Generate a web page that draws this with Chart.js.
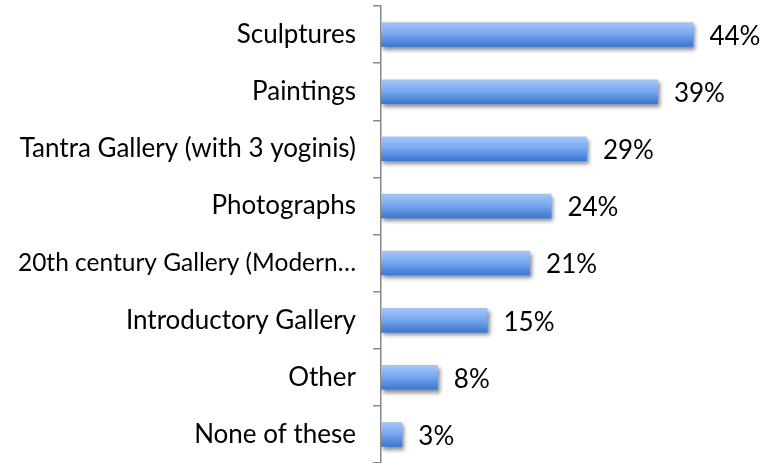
<!DOCTYPE html>
<html>
<head>
<meta charset="utf-8">
<script src="https://cdn.jsdelivr.net/npm/chart.js@4"></script>
<style>
    html, body { margin: 0; padding: 0; background: #fff; }
    #wrap { width: 764px; height: 463px; }
</style>
</head>
<body>
<div id="wrap"><canvas id="galleryChart"></canvas></div>
<script>
const categories = [
    'Sculptures',
    'Paintings',
    'Tantra Gallery (with 3 yoginis)',
    'Photographs',
    '20th century Gallery (Modern…',
    'Introductory Gallery',
    'Other',
    'None of these'
];
const shares = [44, 39, 29, 24, 21, 15, 8, 3];
const labelFont = '26px Lato';

// vertical gradient on each bar, plus a soft drop shadow
const barStyle = {
    id: 'barStyle',
    beforeDatasetsDraw(chart) {
        const ctx = chart.ctx;
        chart.getDatasetMeta(0).data.forEach(bar => {
            const top = bar.y - bar.height / 2;
            const g = ctx.createLinearGradient(0, top, 0, top + bar.height);
            g.addColorStop(0, '#a2c6fb');
            g.addColorStop(0.45, '#7aaaf1');
            g.addColorStop(1, '#3b76d0');
            // options objects can be shared between bars, so give each its own
            bar.options = Object.assign({}, bar.options, { backgroundColor: g });
        });
        ctx.save();
        ctx.shadowColor = 'rgba(0,0,0,0.45)';
        ctx.shadowBlur = 4;
        ctx.shadowOffsetX = 2;
        ctx.shadowOffsetY = 3;
    },
    afterDatasetsDraw(chart) {
        chart.ctx.restore();
    }
};

const valueLabels = {
    id: 'valueLabels',
    afterDatasetsDraw(chart) {
        const ctx = chart.ctx;
        ctx.save();
        ctx.font = labelFont;
        ctx.fillStyle = '#000';
        ctx.textBaseline = 'middle';
        chart.getDatasetMeta(0).data.forEach((bar, i) => {
            ctx.fillText(shares[i] + '%', bar.x + 16, bar.y + 2);
        });
        ctx.restore();
    }
};

new Chart(document.getElementById('galleryChart'), {
    type: 'bar',
    data: {
        labels: categories,
        datasets: [{
            data: shares,
            backgroundColor: '#7aaaf1',
            borderWidth: 0,
            categoryPercentage: 1,
            barPercentage: 0.43
        }]
    },
    plugins: [barStyle, valueLabels],
    options: {
        indexAxis: 'y',
        responsive: true,
        maintainAspectRatio: false,
        animation: false,
        layout: { padding: { top: 6, right: 28, bottom: 0, left: 0 } },
        plugins: {
            legend: { display: false },
            tooltip: { enabled: false }
        },
        scales: {
            x: { display: false, min: 0, max: 50 },
            y: {
                afterFit(scale) {
                    scale.width = 381;
                    scale.paddingTop = 0;
                    scale.paddingBottom = 0;
                },
                border: { display: true, color: '#888', width: 1.5 },
                grid: {
                    offset: true,
                    drawOnChartArea: false,
                    drawTicks: true,
                    tickLength: 8,
                    color: '#888',
                    lineWidth: 1.5
                },
                ticks: {
                    color: '#000',
                    padding: 17,
                    // the long truncated label is set a touch smaller so it fits
                    font: c => ({ family: 'Lato', size: c.index === 4 ? 24.5 : 26 })
                }
            }
        }
    }
});
</script>
</body>
</html>
